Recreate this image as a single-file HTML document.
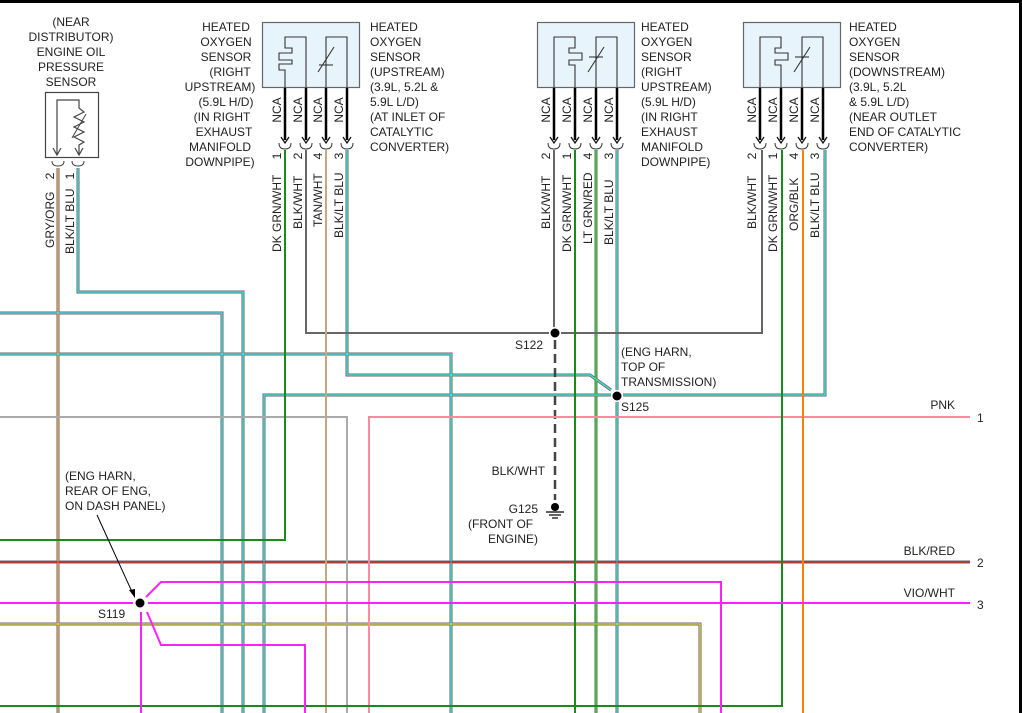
<!DOCTYPE html>
<html><head><meta charset="utf-8"><style>
html,body{margin:0;padding:0;background:#fff;}
svg{display:block;}
text{font-family:"Liberation Sans",sans-serif;font-size:12px;fill:#222;}
</style></head><body>
<svg width="1022" height="713" viewBox="0 0 1022 713" xmlns="http://www.w3.org/2000/svg">
<defs>
<g id="cup"><path d="M-6,-3 Q-6,3 0,3 Q6,3 6,-3" fill="none" stroke="#333" stroke-width="1"/><path d="M-4,-9 L0,-3 L4,-9" fill="none" stroke="#111" stroke-width="1.3"/></g>
</defs>
<rect x="0" y="0" width="1022" height="3" fill="#000"/>
<rect x="1019" y="0" width="3" height="713" fill="#000"/>

<g fill="none" stroke-linejoin="miter">
<g stroke="#666" stroke-width="3">
<polyline points="58,168 58,713"/>
<polyline points="78,168 78,292 243,292 243,713"/>
<polyline points="0,313 222,313 222,713"/>
<polyline points="0,354 451,354 451,713"/>
<polyline points="347,150 347,375 590,375 611,390"/>
<polyline points="264,713 264,395 611,395"/><polyline points="623,395 825,395 825,150"/>
<polyline points="617,150 617,390"/><polyline points="617,402 617,713"/>
<polyline points="0,562 970,562"/>
<polyline points="0,624 700,624 700,713"/>
<polyline points="596,150 596,713"/>
</g>
<g stroke-width="1.3">
<polyline stroke="#f8b060" points="58,168 58,713"/>
<polyline stroke="#40e8e8" points="78,168 78,292 243,292 243,713"/>
<polyline stroke="#40e8e8" points="0,313 222,313 222,713"/>
<polyline stroke="#40e8e8" points="0,354 451,354 451,713"/>
<polyline stroke="#40e8e8" points="347,150 347,375 590,375 611,390"/>
<polyline stroke="#40e8e8" points="264,713 264,395 611,395"/><polyline stroke="#40e8e8" points="623,395 825,395 825,150"/>
<polyline stroke="#40e8e8" points="617,150 617,390"/><polyline stroke="#40e8e8" points="617,402 617,713"/>
<polyline stroke="#e02020" points="0,562 970,562"/>
<polyline stroke="#e8d840" points="0,624 700,624 700,713"/>
<polyline stroke="#30e030" points="596,150 596,713"/>
</g>
<polyline stroke="#666" stroke-width="2" points="306,150 306,333 549,333"/>
<polyline stroke="#666" stroke-width="2" points="561,333 762,333 762,150"/>
<polyline stroke="#666" stroke-width="2" points="554,150 554,327"/>
<polyline stroke="#444" stroke-width="2.5" stroke-dasharray="9,5" points="555,340 555,500"/>
<polyline stroke="#c8a878" stroke-width="2" points="326,150 326,713"/>
<polyline stroke="#aaa" stroke-width="2" points="0,417 347,417 347,713"/>
<polyline stroke="#ff8aa0" stroke-width="2" points="369,713 369,417 970,417"/>
<polyline stroke="#1a8a1a" stroke-width="2" points="285,150 285,540 0,540"/>
<polyline stroke="#1a8a1a" stroke-width="2" points="0,706 782,706 782,150"/>
<polyline stroke="#1a8a1a" stroke-width="2" points="575,150 575,713"/>
<polyline stroke="#ff8000" stroke-width="2" points="803,150 803,713"/>
<g stroke="#ff22ff" stroke-width="2">
<polyline points="0,603 133,603"/><polyline points="148,603 970,603"/>
<polyline points="146,597 161,582 721,582 721,713"/>
<polyline points="147,612 161,645 305,645 305,713"/>
<polyline points="141,612 141,713"/>
</g>
</g>

<circle cx="555" cy="333" r="4.5" fill="#000"/>
<circle cx="617" cy="396" r="4.5" fill="#000"/>
<circle cx="140" cy="603" r="4.5" fill="#000"/>
<circle cx="555" cy="507" r="4" fill="#000"/>
<g stroke="#000" stroke-width="1.2"><line x1="546" y1="512" x2="564" y2="512"/><line x1="549" y1="515" x2="561" y2="515"/><line x1="552" y1="518" x2="558" y2="518"/></g>
<line x1="97" y1="515" x2="133" y2="594" stroke="#000" stroke-width="1"/>
<path d="M135,598 L129,590 L135,589 Z" fill="#000"/>

<rect x="45.5" y="92.5" width="53" height="65" fill="#fff" stroke="#444" stroke-width="1.2"/>
<polyline points="57,155 57,100 79,100 79,108 84,112 74,117 84,122 74,127 84,132 74,137 84,142 79,145 79,155" fill="none" stroke="#444" stroke-width="1.2"/>
<line x1="72" y1="138" x2="86" y2="114" stroke="#444" stroke-width="1"/>
<path d="M53,148 L57,155 L61,148 M75,148 L79,155 L83,148" fill="none" stroke="#444" stroke-width="1.2"/>
<path d="M52,161 Q52,166 58,166 Q64,166 64,161 M72,161 Q72,166 78,166 Q84,166 84,161" fill="none" stroke="#444" stroke-width="1"/>

<rect x="262.5" y="22.5" width="97" height="65" fill="#e8f4fc" stroke="#666" stroke-width="1.2"/>
<rect x="537.5" y="22.5" width="97" height="65" fill="#e8f4fc" stroke="#666" stroke-width="1.2"/>
<rect x="743.5" y="22.5" width="97" height="65" fill="#e8f4fc" stroke="#666" stroke-width="1.2"/>
<g fill="none" stroke="#333" stroke-width="1.1">
<polyline points="285,88 285,70 279,70 279,64 292,64 292,60 279,60 279,53 292,53 292,48 285,48 285,37 306,37 306,88"/>
<polyline points="326,88 326,37 347,37 347,88"/><line x1="319" y1="65" x2="333" y2="65"/><line x1="318" y1="72" x2="334" y2="47"/>
<polyline points="554,88 554,37 575,37 575,48 569,48 569,53 582,53 582,60 569,60 569,65 575,65 575,88"/>
<polyline points="596,88 596,37 617,37 617,88"/><line x1="589" y1="57" x2="603" y2="57"/><line x1="588" y1="72" x2="604" y2="47"/>
<polyline points="760,88 760,37 781,37 781,48 775,48 775,53 788,53 788,60 775,60 775,65 781,65 781,88"/>
<polyline points="802,88 802,37 823,37 823,88"/><line x1="795" y1="57" x2="809" y2="57"/><line x1="794" y1="72" x2="810" y2="47"/>
</g>
<g stroke="#000" stroke-width="2.5">
<line x1="285" y1="88" x2="285" y2="140"/><line x1="306" y1="88" x2="306" y2="140"/><line x1="326" y1="88" x2="326" y2="140"/><line x1="347" y1="88" x2="347" y2="140"/>
<line x1="554" y1="88" x2="554" y2="140"/><line x1="575" y1="88" x2="575" y2="140"/><line x1="596" y1="88" x2="596" y2="140"/><line x1="617" y1="88" x2="617" y2="140"/>
<line x1="760" y1="88" x2="760" y2="140"/><line x1="781" y1="88" x2="781" y2="140"/><line x1="802" y1="88" x2="802" y2="140"/><line x1="823" y1="88" x2="823" y2="140"/>
</g>
<use href="#cup" x="285" y="146"/><use href="#cup" x="306" y="146"/><use href="#cup" x="326" y="146"/><use href="#cup" x="347" y="146"/>
<use href="#cup" x="554" y="146"/><use href="#cup" x="575" y="146"/><use href="#cup" x="596" y="146"/><use href="#cup" x="617" y="146"/>
<use href="#cup" x="760" y="146"/><use href="#cup" x="781" y="146"/><use href="#cup" x="802" y="146"/><use href="#cup" x="823" y="146"/>

<g text-anchor="middle">
<text x="71" y="26">(NEAR</text><text x="71" y="41">DISTRIBUTOR)</text><text x="71" y="56">ENGINE OIL</text><text x="71" y="71">PRESSURE</text><text x="71" y="86">SENSOR</text>
</g>
<g text-anchor="middle">
<text x="226" y="31">HEATED</text><text x="226" y="46">OXYGEN</text><text x="226" y="61">SENSOR</text><text x="230" y="76">(RIGHT</text><text x="220" y="91">UPSTREAM)</text><text x="226" y="106">(5.9L H/D)</text><text x="222" y="121">(IN RIGHT</text><text x="224" y="136">EXHAUST</text><text x="220" y="151">MANIFOLD</text><text x="220" y="166">DOWNPIPE)</text>
</g>
<g>
<text x="370" y="31">HEATED</text><text x="370" y="46">OXYGEN</text><text x="370" y="61">SENSOR</text><text x="370" y="76">(UPSTREAM)</text><text x="370" y="91">(3.9L, 5.2L &amp;</text><text x="370" y="106">5.9L L/D)</text><text x="370" y="121">(AT INLET OF</text><text x="370" y="136">CATALYTIC</text><text x="370" y="151">CONVERTER)</text>
<text x="641" y="31">HEATED</text><text x="641" y="46">OXYGEN</text><text x="641" y="61">SENSOR</text><text x="641" y="76">(RIGHT</text><text x="641" y="91">UPSTREAM)</text><text x="641" y="106">(5.9L H/D)</text><text x="641" y="121">(IN RIGHT</text><text x="641" y="136">EXHAUST</text><text x="641" y="151">MANIFOLD</text><text x="641" y="166">DOWNPIPE)</text>
<text x="849" y="31">HEATED</text><text x="849" y="46">OXYGEN</text><text x="849" y="61">SENSOR</text><text x="849" y="76">(DOWNSTREAM)</text><text x="849" y="91">(3.9L, 5.2L</text><text x="849" y="106">&amp; 5.9L L/D)</text><text x="849" y="121">(NEAR OUTLET</text><text x="849" y="136">END OF CATALYTIC</text><text x="849" y="151">CONVERTER)</text>
</g>
<g text-anchor="middle">
<text transform="translate(281,110) rotate(-90)">NCA</text><text transform="translate(302,110) rotate(-90)">NCA</text><text transform="translate(322,110) rotate(-90)">NCA</text><text transform="translate(343,110) rotate(-90)">NCA</text>
<text transform="translate(550,110) rotate(-90)">NCA</text><text transform="translate(571,110) rotate(-90)">NCA</text><text transform="translate(592,110) rotate(-90)">NCA</text><text transform="translate(613,110) rotate(-90)">NCA</text>
<text transform="translate(756,110) rotate(-90)">NCA</text><text transform="translate(777,110) rotate(-90)">NCA</text><text transform="translate(798,110) rotate(-90)">NCA</text><text transform="translate(819,110) rotate(-90)">NCA</text>
<text transform="translate(54,176) rotate(-90)">2</text><text transform="translate(74,176) rotate(-90)">1</text>
<text transform="translate(281,156) rotate(-90)">1</text><text transform="translate(302,156) rotate(-90)">2</text><text transform="translate(322,156) rotate(-90)">4</text><text transform="translate(343,156) rotate(-90)">3</text>
<text transform="translate(550,156) rotate(-90)">2</text><text transform="translate(571,156) rotate(-90)">1</text><text transform="translate(592,156) rotate(-90)">4</text><text transform="translate(613,156) rotate(-90)">3</text>
<text transform="translate(756,156) rotate(-90)">2</text><text transform="translate(777,156) rotate(-90)">1</text><text transform="translate(798,156) rotate(-90)">4</text><text transform="translate(819,156) rotate(-90)">3</text>
</g>
<g text-anchor="start">
<text transform="translate(54,248) rotate(-90)">GRY/ORG</text><text transform="translate(74,254) rotate(-90)">BLK/LT BLU</text>
<text transform="translate(281,252) rotate(-90)">DK GRN/WHT</text><text transform="translate(302,229) rotate(-90)">BLK/WHT</text><text transform="translate(322,227) rotate(-90)">TAN/WHT</text><text transform="translate(343,238) rotate(-90)">BLK/LT BLU</text>
<text transform="translate(550,229) rotate(-90)">BLK/WHT</text><text transform="translate(571,252) rotate(-90)">DK GRN/WHT</text><text transform="translate(592,244) rotate(-90)">LT GRN/RED</text><text transform="translate(613,245) rotate(-90)">BLK/LT BLU</text>
<text transform="translate(756,229) rotate(-90)">BLK/WHT</text><text transform="translate(777,252) rotate(-90)">DK GRN/WHT</text><text transform="translate(798,231) rotate(-90)">ORG/BLK</text><text transform="translate(819,238) rotate(-90)">BLK/LT BLU</text>
</g>
<text x="515" y="349">S122</text>
<text x="621" y="356">(ENG HARN,</text><text x="621" y="371">TOP OF</text><text x="621" y="386">TRANSMISSION)</text>
<text x="621" y="411">S125</text>
<text x="955" y="409" text-anchor="end">PNK</text><text x="977" y="422">1</text>
<text x="955" y="555" text-anchor="end">BLK/RED</text><text x="977" y="567">2</text>
<text x="955" y="597" text-anchor="end">VIO/WHT</text><text x="977" y="609">3</text>
<text x="545" y="475" text-anchor="end">BLK/WHT</text>
<text x="538" y="513" text-anchor="end">G125</text>
<text x="468" y="528">(FRONT OF</text>
<text x="538" y="543" text-anchor="end">ENGINE)</text>
<text x="65" y="480">(ENG HARN,</text><text x="65" y="495">REAR OF ENG,</text><text x="65" y="510">ON DASH PANEL)</text>
<text x="98" y="618">S119</text>
</svg>
</body></html>
